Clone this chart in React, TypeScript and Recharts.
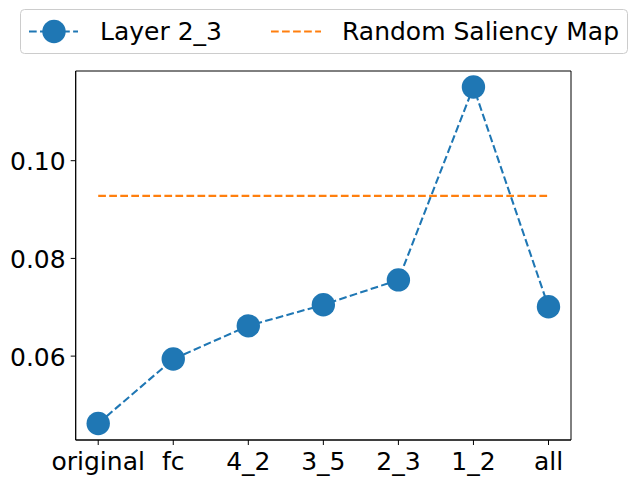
import React from 'react';
import { LineChart, Line, XAxis, YAxis, Legend, ReferenceArea } from 'recharts';

const categories = ['original', 'fc', '4_2', '3_5', '2_3', '1_2', 'all'];
const layerValues = [0.0462, 0.0594, 0.0662, 0.0705, 0.0756, 0.1151, 0.0701];
const randomValues = [0.0928, 0.0928, 0.0928, 0.0928, 0.0928, 0.0928, 0.0928];
const yTicks = [0.06, 0.08, 0.1];
const yDomain = [0.04283, 0.11836];
const xDomain = [-0.3, 6.3];

const data = categories.map((c, i) => ({ x: i, name: c, layer: layerValues[i], random: randomValues[i] }));
const xTicks = categories.map((_, i) => i);

const FONT = 'DejaVu Sans';
const BLUE = '#1f77b4';
const ORANGE = '#ff7f0e';
const DASH = '7.7 3.33';

const XTick = (props: any) => {
  const { x, y, payload } = props;
  return (
    <text x={x} y={y} dy={17.75} textAnchor="middle" fontSize={25} fontFamily={FONT} fill="#000">
      {categories[payload.value]}
    </text>
  );
};

const YTick = (props: any) => {
  const { x, y, payload } = props;
  return (
    <text x={x} y={y} dy={9.8} textAnchor="end" fontSize={25} fontFamily={FONT} fill="#000">
      {Number(payload.value).toFixed(2)}
    </text>
  );
};

const LegendContent = () => (
  <svg width={609} height={46} style={{ display: 'block' }}>
    <rect x={0.5} y={0.5} width={607} height={44} rx={4} ry={4} fill="#ffffff" fillOpacity={0.8} stroke="#cccccc" strokeWidth={1} />
    <line x1={9} y1={22.5} x2={58} y2={22.5} stroke={BLUE} strokeWidth={2.08} strokeDasharray={DASH} />
    <circle cx={34} cy={22.5} r={11.7} fill={BLUE} />
    <text x={80} y={30.5} fontSize={25} fontFamily={FONT} fill="#000">Layer 2_3</text>
    <line x1={251} y1={22.5} x2={301} y2={22.5} stroke={ORANGE} strokeWidth={2.08} strokeDasharray={DASH} />
    <text x={322} y={30.5} fontSize={25} fontFamily={FONT} fill="#000">Random Saliency Map</text>
  </svg>
);

export default function App() {
  return (
    <div style={{ position: 'absolute', left: 0, top: 0, width: 638, height: 484, background: '#fff' }}>
      <LineChart width={638} height={484} data={data} margin={{ top: 71, right: 67, bottom: 0, left: 0 }}>
        <XAxis
          dataKey="x"
          type="number"
          domain={xDomain}
          ticks={xTicks}
          allowDataOverflow
          height={44}
          stroke="#000"
          tickSize={5}
          tickMargin={7}
          tick={<XTick />}
          interval={0}
        />
        <YAxis
          type="number"
          domain={yDomain}
          ticks={yTicks}
          allowDataOverflow
          width={75.7}
          stroke="#000"
          tickSize={5}
          tickMargin={5}
          tick={<YTick />}
          interval={0}
        />
        <ReferenceArea
          x1={xDomain[0]}
          x2={xDomain[1]}
          y1={yDomain[0]}
          y2={yDomain[1]}
          fill="none"
          fillOpacity={0}
          stroke="#000"
          strokeWidth={1}
          strokeOpacity={1}
          ifOverflow="extendDomain"
        />
        <Legend
          layout="horizontal"
          verticalAlign="middle"
          align="center"
          wrapperStyle={{ top: 9, left: 20, width: 609, height: 46 }}
          content={<LegendContent />}
        />
        <Line
          dataKey="layer"
          stroke={BLUE}
          strokeWidth={2.08}
          strokeDasharray={DASH}
          dot={{ r: 11.7, fill: BLUE, stroke: 'none', strokeWidth: 0 }}
          activeDot={false}
          isAnimationActive={false}
        />
        <Line
          dataKey="random"
          stroke={ORANGE}
          strokeWidth={2.08}
          strokeDasharray={DASH}
          dot={false}
          activeDot={false}
          isAnimationActive={false}
        />
      </LineChart>
    </div>
  );
}
